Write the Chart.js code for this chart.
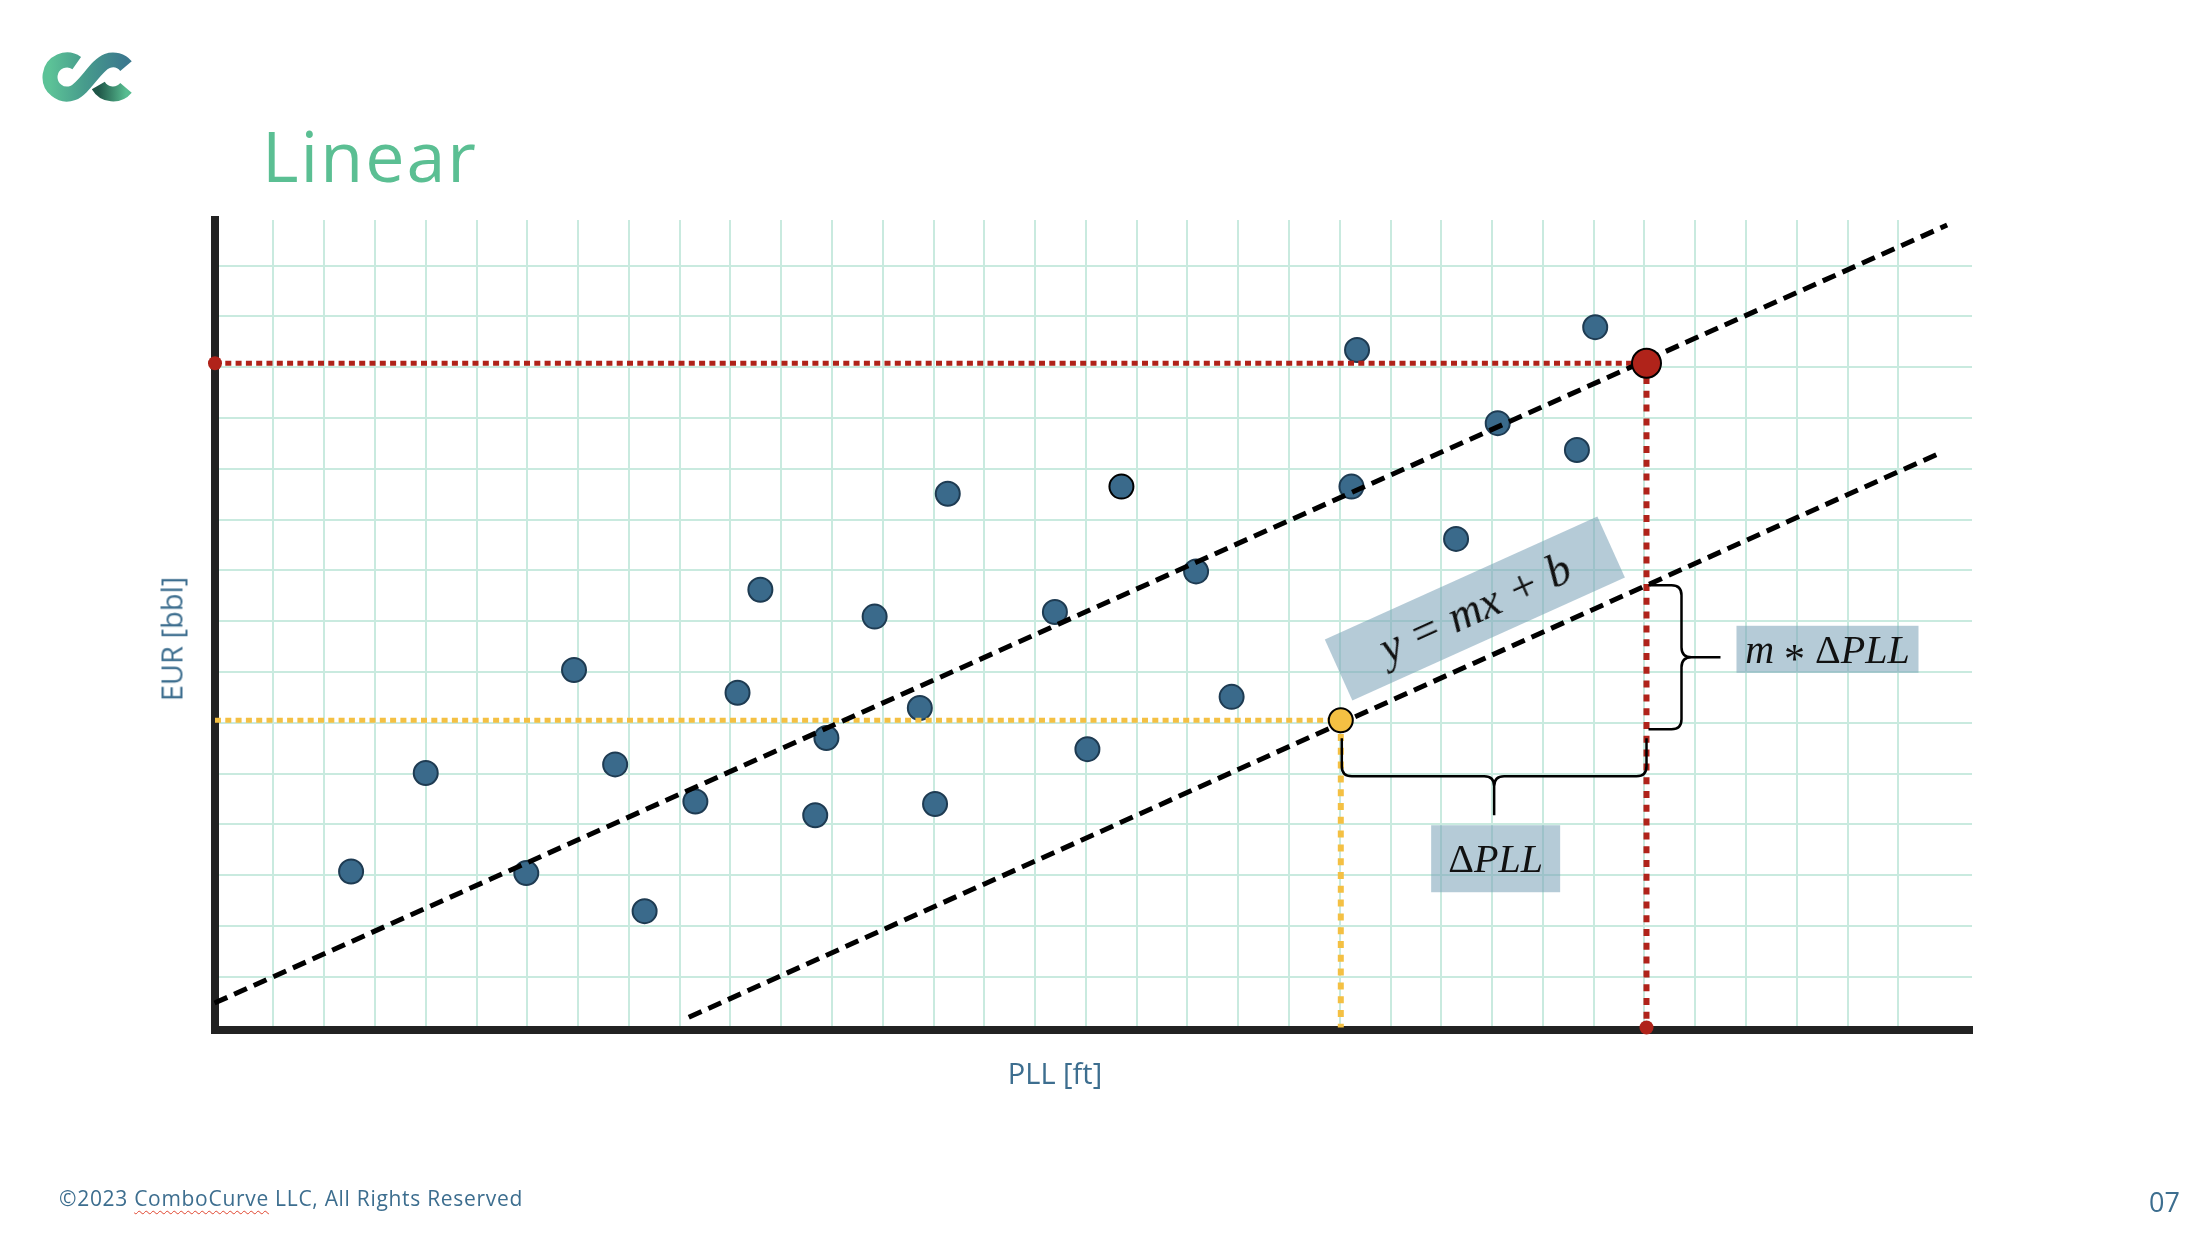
<!DOCTYPE html>
<html lang="en">
<head>
  <meta charset="UTF-8" />
  <title>Linear</title>
  <script src="https://cdn.jsdelivr.net/npm/chart.js"></script>
  <style>
    html, body { margin: 0; padding: 0; background: #fff; }
    body { width: 2212px; height: 1246px; position: relative; overflow: hidden; font-family: "Open Sans", sans-serif; }
    #plot { position: absolute; left: 0; top: 0; }
    .logo { position: absolute; left: 42px; top: 52px; }
    h1 { position: absolute; left: 262px; top: 120px; margin: 0; font-size: 70px; line-height: 1; font-weight: 400; letter-spacing: 2px; color: #5bbf93; }
    .axis-title { position: absolute; font-size: 29px; line-height: 1; color: #3d6e8f; white-space: nowrap; transform: translate(-50%, -50%); }
    #x-title { left: 1055px; top: 1072px; }
    #y-title { left: 171px; top: 639px; transform: translate(-50%, -50%) rotate(-90deg); }
    .footer { position: absolute; left: 59px; top: 1188px; font-size: 21px; line-height: 1; letter-spacing: 0.7px; color: #3d6e8f; white-space: nowrap; }
    .footer span { text-decoration: underline wavy #e0452f; text-decoration-thickness: 1px; text-underline-offset: 4px; }
    .page { position: absolute; right: 32px; top: 1188px; font-size: 27px; line-height: 1; color: #3d6e8f; }
    .note { position: absolute; font-family: "Liberation Serif", serif; font-style: italic; color: #111; line-height: 1; white-space: nowrap; transform: translate(-50%, -50%); }
    .note .up { font-style: normal; }
    .note .op { font-style: normal; font-family: "Liberation Serif", serif; font-size: 1.05em; position: relative; top: 0.22em; }
    #note-eq { font-size: 46px; }
    #note-dpll { font-size: 40px; }
    #note-mdpll { font-size: 40px; }
  </style>
</head>
<body>
  <!-- logo -->
  <svg class="logo" width="92" height="52" viewBox="0 0 92 52">
    <defs>
      <linearGradient id="g1" x1="0" y1="0" x2="1" y2="0">
        <stop offset="0" stop-color="#5cc297" />
        <stop offset="0.45" stop-color="#479c8c" />
        <stop offset="1" stop-color="#3b788e" />
      </linearGradient>
      <linearGradient id="g2" x1="0" y1="0" x2="1" y2="0">
        <stop offset="0" stop-color="#1f5648" />
        <stop offset="1" stop-color="#58bd91" />
      </linearGradient>
    </defs>
    <path d="M56.3 33.5 A17 17 0 0 0 84 35.9" fill="none" stroke="url(#g2)" stroke-width="15" />
    <path d="M34.75 11.07 A17 17 0 1 0 30.8 41 C42.1 36.9 53.9 13.1 65.2 9 A17 17 0 0 1 84 14.1" fill="none" stroke="url(#g1)" stroke-width="15" />
  </svg>

  <h1>Linear</h1>

  <canvas id="plot" width="2212" height="1246"></canvas>

  <div class="axis-title" id="x-title">PLL [ft]</div>
  <div class="axis-title" id="y-title">EUR [bbl]</div>

  <div class="note" id="note-eq">y = mx + b</div>
  <div class="note" id="note-dpll"><span class="up">Δ</span>PLL</div>
  <div class="note" id="note-mdpll">m <span class="op">*</span> <span class="up">Δ</span>PLL</div>

  <div class="footer">©2023 <span>ComboCurve</span> LLC, All Rights Reserved</div>
  <div class="page">07</div>

  <script>
    // values are in grid cells (one square of the paper = 1)
    const pllValues = [2.53, 4.00, 5.98, 6.92, 7.73, 8.31, 9.31, 10.14, 10.59, 11.67, 11.89, 12.84, 13.73,
                       14.03, 14.28, 16.39, 17.03, 17.70, 19.17, 19.87, 22.23, 22.34, 24.29, 25.11, 26.67, 27.03];
    const eurValues = [3.07, 5.01, 3.04, 7.04, 5.18, 2.29, 4.45, 6.59, 8.62, 4.18, 5.70, 8.09, 6.29,
                       4.40, 10.51, 8.18, 5.48, 10.65, 8.98, 6.51, 10.65, 13.34, 9.62, 11.90, 11.37, 13.79];

    // fitted line and the same line shifted by delta PLL
    const fitPll = [-0.16, 33.96];
    const fitEur = [0.48, 15.80];
    const shiftPll = [9.18, 33.77];
    const shiftEur = [0.20, 11.29];

    // known well (yellow) and predicted well (red)
    const knownPoint = [22.02, 6.05];
    const predictedPoint = [28.04, 13.08];

    const xRange = [-0.15, 34.45];
    const yRange = [-0.05, 15.9];

    // where the y = mx + b label sits
    const eqAnchor = [24.66, 8.25];

    const pts = (xs, ys) => xs.map((v, i) => ({ x: v, y: ys[i] }));
    const lineAt = (xs, ys, v) => ys[0] + (ys[1] - ys[0]) * (v - xs[0]) / (xs[1] - xs[0]);

    const RED = '#b0231a';
    const YELLOW = '#f4c043';
    const BOX = 'rgba(121, 160, 183, 0.55)';

    function guide(data, color, vertical) {
      return {
        data, showLine: true, pointRadius: 0, borderColor: color, clip: false,
        borderWidth: vertical ? 6 : 5, borderDash: vertical ? [7, 6.8] : [6, 4.3], borderCapStyle: 'butt'
      };
    }

    function dashed(data) {
      return { data, showLine: true, pointRadius: 0, borderColor: '#000', borderWidth: 5, borderDash: [14, 7.5], clip: false };
    }

    function brace(ctx, a, b, base, bar, tip, horizontal) {
      // a..b along the brace, base = where the ends start, bar = the long side, tip = how far the point sticks out
      const r = 10;
      const m = (a + b) / 2;
      const d = Math.sign(bar - base);
      const P = (u, v) => horizontal ? [u, v] : [v, u];
      ctx.beginPath();
      ctx.moveTo(...P(a, base));
      ctx.lineTo(...P(a, bar - d * r));
      ctx.quadraticCurveTo(...P(a, bar), ...P(a + r, bar));
      ctx.lineTo(...P(m - r, bar));
      ctx.quadraticCurveTo(...P(m, bar), ...P(m, bar + d * r));
      ctx.lineTo(...P(m, bar + d * tip));
      ctx.moveTo(...P(m, bar + d * r));
      ctx.quadraticCurveTo(...P(m, bar), ...P(m + r, bar));
      ctx.lineTo(...P(b - r, bar));
      ctx.quadraticCurveTo(...P(b, bar), ...P(b, bar - d * r));
      ctx.lineTo(...P(b, base));
      ctx.stroke();
    }

    function geometry(chart) {
      const { x, y } = chart.scales;
      const kx = x.getPixelForValue(knownPoint[0]);
      const ky = y.getPixelForValue(knownPoint[1]);
      const px = x.getPixelForValue(predictedPoint[0]);
      const sy = y.getPixelForValue(lineAt(shiftPll, shiftEur, predictedPoint[0]));
      const ang = Math.atan2(
        y.getPixelForValue(shiftEur[1]) - y.getPixelForValue(shiftEur[0]),
        x.getPixelForValue(shiftPll[1]) - x.getPixelForValue(shiftPll[0]));
      return {
        kx, ky, px, sy, ang,
        eq: { cx: x.getPixelForValue(eqAnchor[0]), cy: y.getPixelForValue(eqAnchor[1]), w: 299, h: 67 },
        dpll: { cx: (kx + px) / 2 + 2, cy: ky + 56 + 39 + 10 + 33.5, w: 129, h: 67 },
        mdpll: { cx: px + 35 + 39 + 16 + 91, cy: (sy + ky + 9) / 2 - 8, w: 182, h: 47 }
      };
    }

    const notes = {
      id: 'notes',
      beforeDatasetsDraw(chart) {
        const ctx = chart.ctx;
        const g = geometry(chart);
        ctx.save();
        ctx.fillStyle = BOX;
        [g.dpll, g.mdpll].forEach(b => ctx.fillRect(b.cx - b.w / 2, b.cy - b.h / 2, b.w, b.h));
        ctx.translate(g.eq.cx, g.eq.cy);
        ctx.rotate(g.ang);
        ctx.fillRect(-g.eq.w / 2, -g.eq.h / 2, g.eq.w, g.eq.h);
        ctx.restore();
      },
      afterDatasetsDraw(chart) {
        const ctx = chart.ctx;
        const g = geometry(chart);
        ctx.save();
        ctx.strokeStyle = '#000';
        ctx.lineWidth = 2.5;
        brace(ctx, g.kx + 1, g.px, g.ky + 18, g.ky + 56, 39, true);
        brace(ctx, g.sy, g.ky + 9, g.px + 2, g.px + 35, 39, false);
        ctx.restore();
      },
      afterRender(chart) {
        const g = geometry(chart);
        const place = (id, b, rot) => {
          const el = document.getElementById(id);
          el.style.left = b.cx + 'px';
          el.style.top = b.cy + 'px';
          el.style.transform = 'translate(-50%, -50%)' + (rot ? ` rotate(${rot}rad)` : '');
        };
        place('note-eq', g.eq, g.ang);
        place('note-dpll', g.dpll);
        place('note-mdpll', g.mdpll);
      }
    };

    const onlyWhole = axis => {
      axis.ticks = axis.ticks.filter(t => Math.abs(t.value - Math.round(t.value)) < 1e-6);
    };

    new Chart(document.getElementById('plot'), {
      type: 'scatter',
      data: {
        datasets: [
          // predicted well
          { data: pts([predictedPoint[0]], [predictedPoint[1]]), pointRadius: 14.5, pointBackgroundColor: RED,
            pointBorderColor: '#000', pointBorderWidth: 2, clip: false },
          // known well
          { data: pts([knownPoint[0]], [knownPoint[1]]), pointRadius: 12, pointBackgroundColor: YELLOW,
            pointBorderColor: '#000', pointBorderWidth: 2, clip: false },
          // red marks on the axes
          { data: pts([xRange[0], predictedPoint[0]], [predictedPoint[1], 0]), pointRadius: 7,
            pointBackgroundColor: RED, pointBorderWidth: 0, clip: false },
          dashed(pts(fitPll, fitEur)),
          dashed(pts(shiftPll, shiftEur)),
          guide(pts([xRange[0], predictedPoint[0]], [predictedPoint[1], predictedPoint[1]]), RED, false),
          guide(pts([predictedPoint[0], predictedPoint[0]], [predictedPoint[1], 0]), RED, true),
          guide(pts([xRange[0], knownPoint[0]], [knownPoint[1], knownPoint[1]]), YELLOW, false),
          guide(pts([knownPoint[0], knownPoint[0]], [knownPoint[1], 0]), YELLOW, true),
          // wells
          { data: pts(pllValues, eurValues), pointRadius: 12, pointBackgroundColor: '#3a6a8b',
            pointBorderColor: c => c.dataIndex === 17 ? '#000' : '#1e3b52', pointBorderWidth: 2, clip: false }
        ]
      },
      options: {
        responsive: false,
        animation: false,
        events: [],
        layout: { padding: { left: 215, top: 220, right: 240, bottom: 216 } },
        plugins: { legend: { display: false }, tooltip: { enabled: false } },
        scales: {
          x: {
            type: 'linear', min: xRange[0], max: xRange[1],
            ticks: { display: false, stepSize: 1 },
            afterBuildTicks: onlyWhole,
            grid: { color: '#c9eadf', lineWidth: 2, drawTicks: false },
            border: { display: true, color: '#222', width: 8 }
          },
          y: {
            type: 'linear', min: yRange[0], max: yRange[1],
            ticks: { display: false, stepSize: 1 },
            afterBuildTicks: onlyWhole,
            grid: { color: '#c9eadf', lineWidth: 2, drawTicks: false },
            border: { display: true, color: '#222', width: 8 }
          }
        }
      },
      plugins: [notes]
    });
  </script>
</body>
</html>
